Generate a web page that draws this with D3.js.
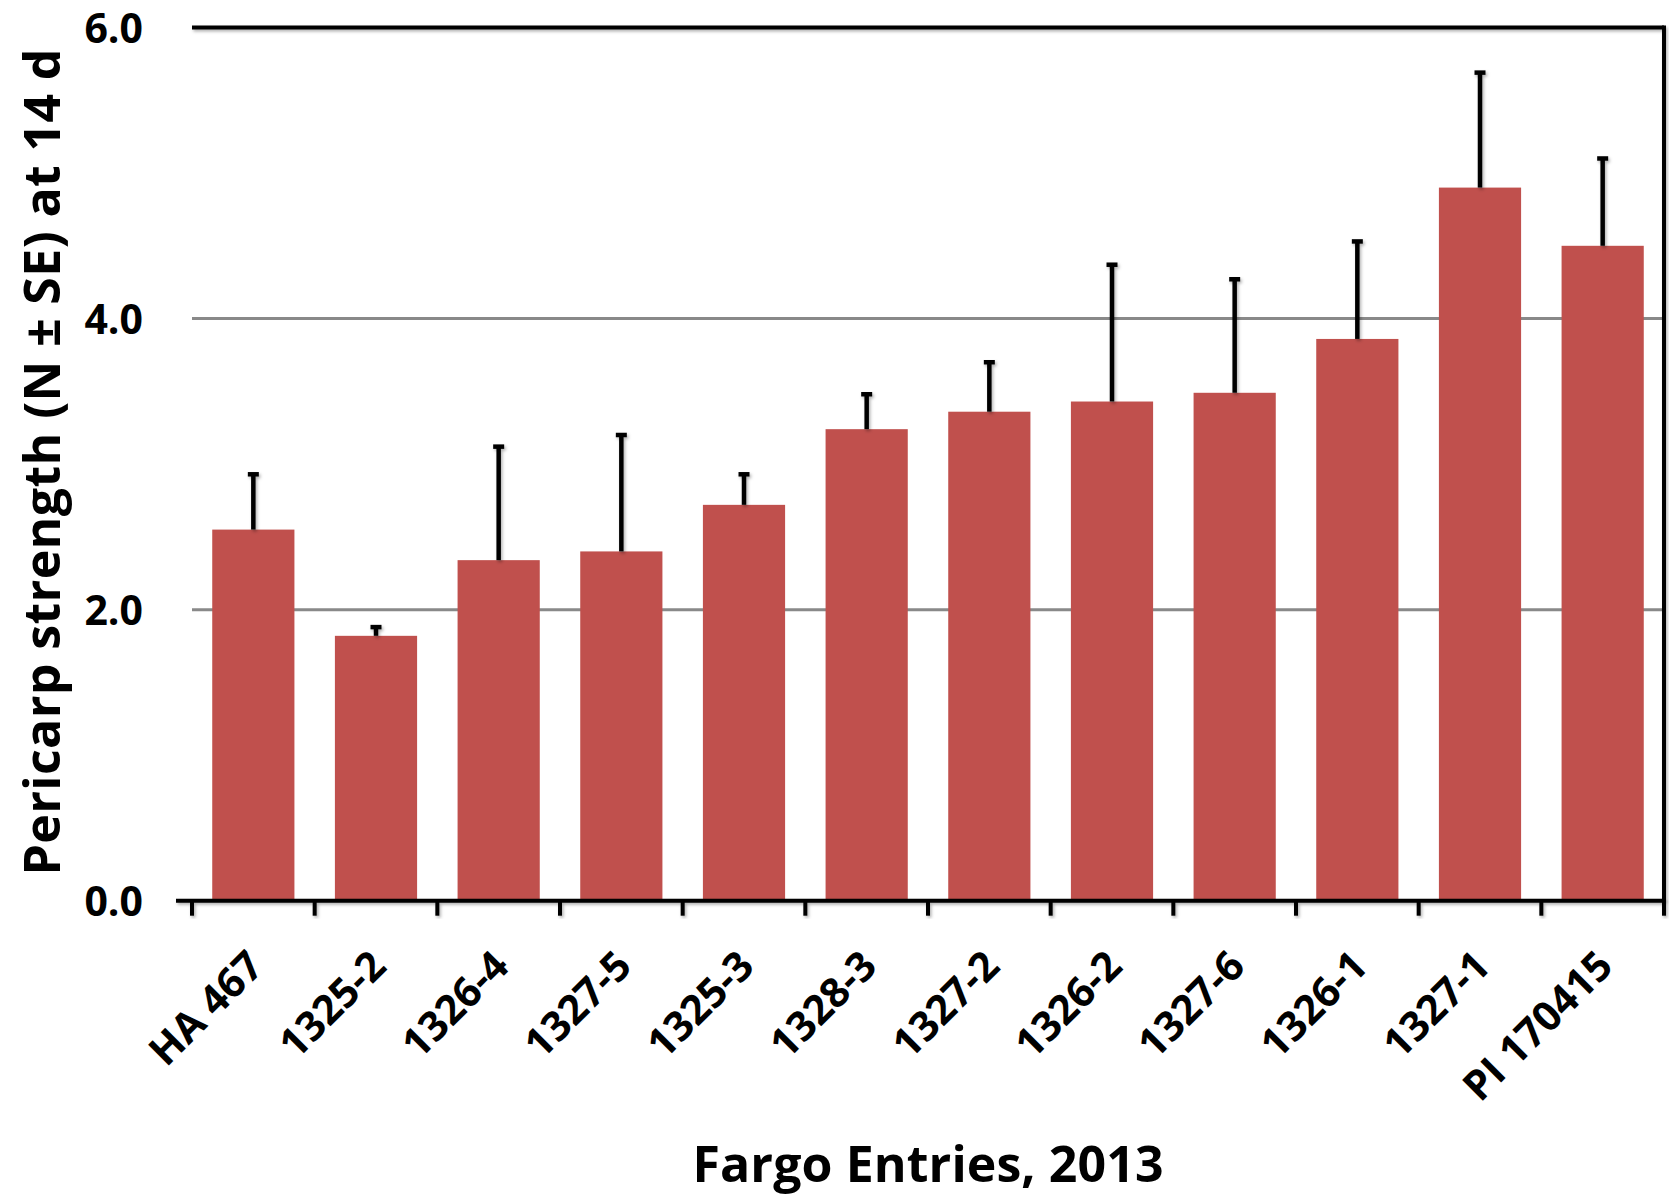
<!DOCTYPE html>
<html><head><meta charset="utf-8">
<script src="https://cdn.jsdelivr.net/npm/d3@7"></script>
<style>html,body{margin:0;padding:0;background:#fff;}svg{display:block;}</style>
</head><body>
<svg id="c" width="1669" height="1198"></svg>
<script>
const categories = ["HA 467","1325-2","1326-4","1327-5","1325-3","1328-3","1327-2","1326-2","1327-6","1326-1","1327-1","PI 170415"];
const means = [2.55, 1.82, 2.34, 2.40, 2.72, 3.24, 3.36, 3.43, 3.49, 3.86, 4.90, 4.50];
const errUpper = [2.93, 1.88, 3.12, 3.20, 2.93, 3.48, 3.70, 4.37, 4.27, 4.53, 5.69, 5.10];
const yTicks = [0, 2, 4, 6];
const yTitle = "Pericarp strength (N \u00b1 SE) at 14 d";
const xTitle = "Fargo Entries, 2013";

(function(){
const svg = d3.select("#c");
const pL = 192, pR = 1664, pT = 27.5, pB = 900.7;
const font = "'Open Sans', Lato, sans-serif";

const defs = svg.append("defs");
const f = defs.append("filter").attr("id","sh").attr("x","-20%").attr("y","-20%").attr("width","140%").attr("height","140%");
f.append("feDropShadow").attr("dx",1.5).attr("dy",2).attr("stdDeviation",1.5).attr("flood-color","#000").attr("flood-opacity",0.3);

const x = d3.scaleBand().domain(categories).range([pL, pR]).paddingInner(0.33).paddingOuter(0.165);
const xb = d3.scaleBand().domain(categories).range([pL, pR]).padding(0);
const y = d3.scaleLinear().domain([0, 6]).range([pB, pT]);

// gridlines
svg.append("g").selectAll("line").data(yTicks.filter(v => v > 0 && v < 6)).join("line")
  .attr("x1", pL).attr("x2", pR).attr("y1", d => y(d)).attr("y2", d => y(d))
  .attr("stroke", "#898989").attr("stroke-width", 3);

// bars
svg.append("g").selectAll("rect").data(categories).join("rect")
  .attr("x", d => x(d)).attr("width", x.bandwidth())
  .attr("y", (d,i) => y(means[i])).attr("height", (d,i) => y(0) - y(means[i]))
  .attr("fill", "#C0504D");

// error bars
const eb = svg.append("g").attr("filter","url(#sh)");
categories.forEach((c,i) => {
  const cx = x(c) + x.bandwidth()/2;
  eb.append("line").attr("x1",cx).attr("x2",cx).attr("y1",y(means[i])).attr("y2",y(errUpper[i]))
    .attr("stroke","#000").attr("stroke-width",4.5);
  eb.append("line").attr("x1",cx-5.5).attr("x2",cx+5.5).attr("y1",y(errUpper[i])).attr("y2",y(errUpper[i]))
    .attr("stroke","#000").attr("stroke-width",4.5);
});

// frame
const fr = svg.append("g").attr("filter","url(#sh)");
fr.append("line").attr("x1",pL).attr("x2",pR).attr("y1",pT).attr("y2",pT).attr("stroke","#000").attr("stroke-width",4);
fr.append("line").attr("x1",pR).attr("x2",pR).attr("y1",pT-2).attr("y2",pB).attr("stroke","#000").attr("stroke-width",4);

// y axis
const yAxis = d3.axisLeft(y).tickValues(yTicks).tickSize(16).tickPadding(33).tickFormat(d3.format(".1f"));
const ya = svg.append("g").attr("transform",`translate(${pL},0)`).call(yAxis);
ya.select(".domain").attr("stroke","#000").attr("stroke-width",4).attr("d",`M0,${pT-2}V${pB+2}`).attr("filter","url(#sh)");
ya.selectAll(".tick line").attr("stroke","#000").attr("stroke-width",4).attr("filter","url(#sh)");
ya.selectAll(".tick text").attr("font-family",font).attr("font-weight",700).attr("font-size",41).attr("fill","#000").attr("dy","0.36em");

// x axis
const xAxis = d3.axisBottom(xb).tickSize(0).tickFormat("");
const xa = svg.append("g").attr("transform",`translate(0,${pB})`).call(xAxis).attr("filter","url(#sh)");
xa.select(".domain").attr("stroke","#000").attr("stroke-width",4).attr("d",`M${pL-16},0H${pR+2}`);
xa.selectAll(".tick").remove();
const boundaries = categories.map(c => xb(c)).concat([pR]);
xa.selectAll("line.tk").data(boundaries).join("line").attr("class","tk")
  .attr("x1",d=>d).attr("x2",d=>d).attr("y1",0).attr("y2",15).attr("stroke","#000").attr("stroke-width",4);

// x labels
svg.append("g").selectAll("text").data(categories).join("text")
  .attr("transform", d => `translate(${xb(d)+xb.bandwidth()/2+2},958) rotate(-45)`)
  .attr("text-anchor","end").attr("dy","0.36em")
  .attr("font-family",font).attr("font-weight",700).attr("font-size",41).attr("fill","#000")
  .text(d => d);

// titles
svg.append("text").attr("transform","translate(60,462) rotate(-90)")
  .attr("text-anchor","middle").attr("font-family",font).attr("font-weight",700).attr("font-size",50)
  .attr("textLength",827).attr("lengthAdjust","spacing")
  .text(yTitle);
svg.append("text").attr("x",928).attr("y",1182)
  .attr("text-anchor","middle").attr("font-family",font).attr("font-weight",700).attr("font-size",50)
  .attr("textLength",471).attr("lengthAdjust","spacing")
  .text(xTitle);
})();
</script>
</body></html>
